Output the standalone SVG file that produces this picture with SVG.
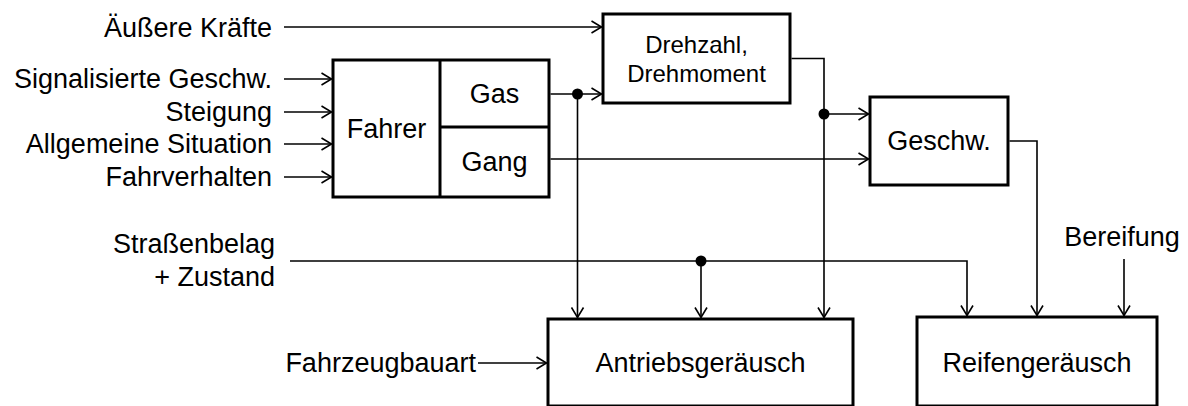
<svg xmlns="http://www.w3.org/2000/svg" width="1188" height="406" viewBox="0 0 1188 406">
  <style>
    .box { fill: #fff; stroke: #000; stroke-width: 3; }
    .div { fill: none; stroke: #000; stroke-width: 3; }
    .wire { fill: none; stroke: #000; stroke-width: 1.6; }
    .arr { marker-end: url(#head); }
    .lbl { font-family: "Liberation Sans", Arial, sans-serif; font-size: 27px; fill: #000; }
    .sm { font-size: 24px; }
    .end { text-anchor: end; }
    .mid { text-anchor: middle; }
  </style>
  <defs>
    <marker id="head" markerUnits="userSpaceOnUse" markerWidth="14" markerHeight="14" viewBox="-12 -7 14 14" refX="0" refY="0" orient="auto">
      <path d="M-10,-6 L0,0 L-10,6" fill="none" stroke="#000" stroke-width="1.6"/>
    </marker>
  </defs>

  <rect width="1188" height="406" fill="#fff"/>

  <!-- input labels -->
  <g id="inputs" class="lbl end">
    <text x="272" y="37">Äußere Kräfte</text>
    <text x="272" y="88">Signalisierte Geschw.</text>
    <text x="272" y="121">Steigung</text>
    <text x="272" y="153">Allgemeine Situation</text>
    <text x="272" y="186">Fahrverhalten</text>
    <text x="275" y="253">Straßenbelag</text>
    <text x="275" y="286">+ Zustand</text>
    <text x="476" y="372">Fahrzeugbauart</text>
  </g>
  <text id="bereifung" class="lbl mid" x="1122" y="246">Bereifung</text>

  <!-- driver block with gas / gear cells -->
  <g id="fahrer">
    <rect class="box" x="333" y="60" width="216" height="137"/>
    <line class="div" x1="440" y1="60" x2="440" y2="197"/>
    <line class="div" x1="440" y1="127" x2="549" y2="127"/>
    <text class="lbl mid" x="386.5" y="138">Fahrer</text>
    <text class="lbl mid" x="494.5" y="103">Gas</text>
    <text class="lbl mid" x="494.5" y="171">Gang</text>
  </g>

  <g id="drehzahl">
    <rect class="box" x="603" y="14" width="187" height="89"/>
    <text class="lbl sm mid" x="696.5" y="53">Drehzahl,</text>
    <text class="lbl sm mid" x="696.5" y="82">Drehmoment</text>
  </g>

  <g id="geschw">
    <rect class="box" x="870" y="97" width="138" height="88"/>
    <text class="lbl mid" x="939" y="150">Geschw.</text>
  </g>

  <g id="antrieb">
    <rect class="box" x="548" y="319" width="305" height="87"/>
    <text class="lbl mid" x="700.5" y="372">Antriebsgeräusch</text>
  </g>

  <g id="reifen">
    <rect class="box" x="917" y="317" width="240" height="89"/>
    <text class="lbl mid" x="1037" y="372">Reifengeräusch</text>
  </g>

  <!-- connectors -->
  <g id="connectors">
    <line class="wire arr" x1="284" y1="27" x2="601.5" y2="27"/>
    <line class="wire arr" x1="284" y1="79" x2="331.5" y2="79"/>
    <line class="wire arr" x1="284" y1="112" x2="331.5" y2="112"/>
    <line class="wire arr" x1="284" y1="144" x2="331.5" y2="144"/>
    <line class="wire arr" x1="284" y1="177" x2="331.5" y2="177"/>

    <line class="wire arr" x1="550.5" y1="94" x2="601.5" y2="94"/>
    <line class="wire arr" x1="577.5" y1="94" x2="577.5" y2="317.5"/>
    <circle cx="577.5" cy="94" r="5.5" fill="#000"/>

    <line class="wire arr" x1="550.5" y1="159" x2="868.5" y2="159"/>

    <polyline class="wire arr" points="791.5,58.5 824,58.5 824,317.5"/>
    <line class="wire arr" x1="824" y1="114" x2="868.5" y2="114"/>
    <circle cx="824" cy="114" r="5.5" fill="#000"/>

    <polyline class="wire arr" points="1009.5,141 1037,141 1037,315.5"/>

    <polyline class="wire arr" points="290,261 967,261 967,315.5"/>
    <line class="wire arr" x1="701" y1="261" x2="701" y2="317.5"/>
    <circle cx="701" cy="261" r="5.5" fill="#000"/>

    <line class="wire arr" x1="1124" y1="259" x2="1124" y2="315.5"/>

    <line class="wire arr" x1="478" y1="363" x2="546.5" y2="363"/>
  </g>
</svg>
